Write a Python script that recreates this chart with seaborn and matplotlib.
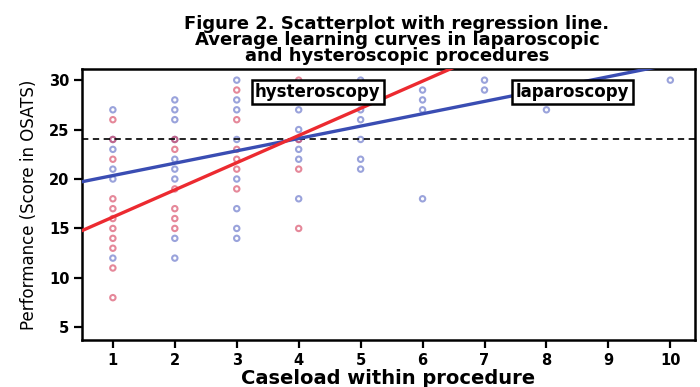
import matplotlib
matplotlib.use("Agg")
import matplotlib.pyplot as plt
import seaborn as sns
import pandas as pd
import numpy as np

# ---- data ----
lap_x = [1, 1, 1, 1, 1, 1,
         2, 2, 2, 2, 2, 2, 2, 2, 2,
         3, 3, 3, 3, 3, 3, 3, 3,
         4, 4, 4, 4, 4, 4,
         5, 5, 5, 5, 5, 5,
         6, 6, 6, 6,
         7, 7, 8, 10]
lap_y = [27, 24, 23, 21, 20, 12,
         28, 27, 26, 24, 22, 21, 20, 14, 12,
         30, 28, 27, 24, 20, 17, 15, 14,
         27, 25, 24, 23, 22, 18,
         30, 27, 26, 24, 22, 21,
         29, 28, 27, 18,
         30, 29, 27, 30]
hys_x = [1, 1, 1, 1, 1, 1, 1, 1, 1, 1, 1,
         2, 2, 2, 2, 2, 2,
         3, 3, 3, 3, 3, 3,
         4, 4, 4, 4]
hys_y = [26, 24, 22, 18, 17, 16, 15, 14, 13, 11, 8,
         24, 23, 19, 17, 16, 15,
         29, 26, 23, 22, 21, 19,
         30, 24, 21, 15]

# regression fits (intercept, slope)
lap_fit = (19.1, 1.25)
hys_fit = (13.4, 2.75)
reference_score = 24
fit_x = [0.5, 10.5]

title = ("Figure 2. Scatterplot with regression line.\n"
         "Average learning curves in laparoscopic\n"
         "and hysteroscopic procedures")
x_ticks = [1, 2, 3, 4, 5, 6, 7, 8, 9, 10]
y_ticks = [5, 10, 15, 20, 25, 30]

# ---- build frames ----
pts = pd.DataFrame({
    "x": lap_x + hys_x,
    "y": lap_y + hys_y,
    "proc": ["laparoscopy"] * len(lap_x) + ["hysteroscopy"] * len(hys_x),
})
fits = pd.DataFrame({
    "x": fit_x * 2,
    "y": [lap_fit[0] + lap_fit[1] * v for v in fit_x] + [hys_fit[0] + hys_fit[1] * v for v in fit_x],
    "proc": ["laparoscopy"] * 2 + ["hysteroscopy"] * 2,
})

sns.set_theme(style="white")
plt.rcParams["font.family"] = ["DejaVu Sans"]
plt.rcParams["text.color"] = "black"
plt.rcParams["axes.labelcolor"] = "black"
plt.rcParams["xtick.color"] = "black"
plt.rcParams["ytick.color"] = "black"

fig = plt.figure(figsize=(7.0, 3.87), dpi=100)
ax = fig.add_axes([0.117, 0.121, 0.876, 0.700])

pt_colors = {"laparoscopy": "#5d6bc6", "hysteroscopy": "#d6405c"}
line_colors = {"laparoscopy": "#3a4db3", "hysteroscopy": "#ec2a30"}

sns.scatterplot(data=pts, x="x", y="y", hue="proc", palette=pt_colors,
                marker="o", s=15, facecolors="none", linewidth=1.5,
                alpha=0.62, legend=False, ax=ax)
# hollow rings
for coll in ax.collections:
    ec = coll.get_facecolors()
    coll.set_edgecolors(ec)
    coll.set_facecolors("none")

ax.axhline(reference_score, color="#111111", lw=1.3, ls=(0, (3.5, 2.5)), zorder=1)

sns.lineplot(data=fits, x="x", y="y", hue="proc", palette=line_colors,
             lw=2.4, legend=False, ax=ax, zorder=3)

ax.set_xlim(0.5, 10.4)
ax.set_ylim(3.7, 31.1)
ax.set_xticks(x_ticks)
ax.set_yticks(y_ticks)
ax.tick_params(axis="both", which="both", direction="out", length=6, width=1.6,
               color="black", labelcolor="black", labelsize=10.5, pad=3)
ax.tick_params(axis="x", bottom=True, top=False)
ax.tick_params(axis="y", left=True, right=False)
for lab in ax.get_xticklabels() + ax.get_yticklabels():
    lab.set_fontweight("bold")

for sp in ax.spines.values():
    sp.set_visible(True)
    sp.set_color("black")
    sp.set_linewidth(1.8)

ax.set_xlabel("Caseload within procedure", fontsize=14, fontweight="bold",
              labelpad=1, color="black")
ax.set_ylabel("Performance (Score in OSATS)", fontsize=12, labelpad=8, color="black")

box = dict(boxstyle="square,pad=0.2", fc="white", ec="black", lw=1.8)
ax.text(4.31, 28.8, "hysteroscopy", ha="center", va="center", fontsize=12,
        fontweight="bold", bbox=box, zorder=5, color="black")
ax.text(8.42, 28.8, "laparoscopy", ha="center", va="center", fontsize=12,
        fontweight="bold", bbox=box, zorder=5, color="black")

fig.text(0.567, 0.962, title, ha="center", va="top", fontsize=13,
         fontweight="bold", linespacing=0.85, color="black")

fig.savefig("out.png", dpi=100)
